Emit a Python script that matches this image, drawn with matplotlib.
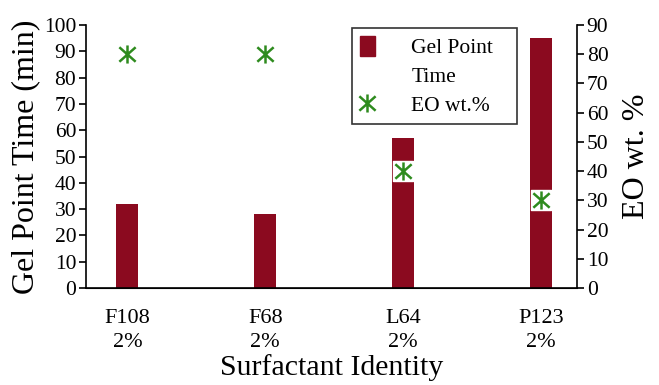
import matplotlib
matplotlib.use("Agg")
import numpy as np
import matplotlib.pyplot as plt
from matplotlib.lines import Line2D
from matplotlib.patches import Patch
from matplotlib.path import Path

categories = ["F108\n2%", "F68\n2%", "L64\n2%", "P123\n2%"]
gel_time = [32, 28, 57, 95]
eo_wt = [80, 80, 40, 30]

BAR_COLOR = "#8B0A1F"
EO_COLOR = "#2E8B1E"

# asterisk: vertical stroke plus an X
STAR = Path(
    [(0, -1), (0, 1), (-0.9, -0.8), (0.9, 0.8), (-0.9, 0.8), (0.9, -0.8)],
    [Path.MOVETO, Path.LINETO, Path.MOVETO, Path.LINETO, Path.MOVETO, Path.LINETO],
)


def main():
    plt.rcParams["font.family"] = ["Liberation Serif", "DejaVu Serif"]

    fig = plt.figure(figsize=(6.59, 3.85), dpi=100)
    ax = fig.add_axes([86 / 659, 1 - 288 / 385, (577 - 86) / 659, (288 - 25) / 385])
    x = np.arange(len(categories))

    ax.bar(x, gel_time, width=0.16, color=BAR_COLOR, zorder=2)
    ax.set_xlim(-0.3, 3.26)
    ax.set_ylim(0, 100)
    ax.set_yticks(np.arange(0, 101, 10))
    ax.set_xticks(x)
    ax.set_xticklabels(categories, fontsize=16, linespacing=1.35)
    ax.tick_params(axis="y", labelsize=15.5, length=5, width=1.2, direction="out", pad=2)
    ax.tick_params(axis="x", length=0, pad=15)
    ax.set_ylabel("Gel Point Time (min)", fontsize=23, labelpad=3)
    ax.set_xlabel("Surfactant Identity", fontsize=21.5, labelpad=2)
    for s in ["top", "right"]:
        ax.spines[s].set_visible(False)
    for s in ["left", "bottom"]:
        ax.spines[s].set_linewidth(1.2)

    ax2 = ax.twinx()
    ax2.set_ylim(0, 90)
    ax2.set_yticks(np.arange(0, 91, 10))
    ax2.scatter(x, eo_wt, marker="s", s=200, color="white", zorder=3)
    ax2.scatter(x, eo_wt, marker=STAR, s=170, color=EO_COLOR, linewidths=1.8, zorder=4)
    ax2.tick_params(axis="y", labelsize=15.5, length=5, width=1.2, direction="out", pad=2)
    ax2.set_ylabel("EO wt. %", fontsize=23, labelpad=10)
    ax2.spines["top"].set_visible(False)
    ax2.spines["left"].set_visible(False)
    ax2.spines["right"].set_linewidth(1.2)

    handles = [
        Patch(color=BAR_COLOR),
        Line2D([], [], linestyle="none"),
        Line2D([], [], marker=STAR, color=EO_COLOR, linestyle="none",
               markersize=13, markeredgewidth=1.8),
    ]
    leg = ax2.legend(handles, ["Gel Point", "Time", "EO wt.%"], loc="upper left",
                     bbox_to_anchor=(352 / 659, 1 - 123 / 385, 165 / 659, 95 / 385),
                     bbox_transform=fig.transFigure, mode="expand",
                     fontsize=15.5, frameon=True,
                     fancybox=False, edgecolor="black", borderpad=0.35,
                     handlelength=0.7, handleheight=1.1, handletextpad=1.7,
                     labelspacing=0.3, borderaxespad=0)
    leg.get_frame().set_linewidth(1.2)

    fig.savefig("out.png", dpi=100)


if __name__ == "__main__":
    main()
